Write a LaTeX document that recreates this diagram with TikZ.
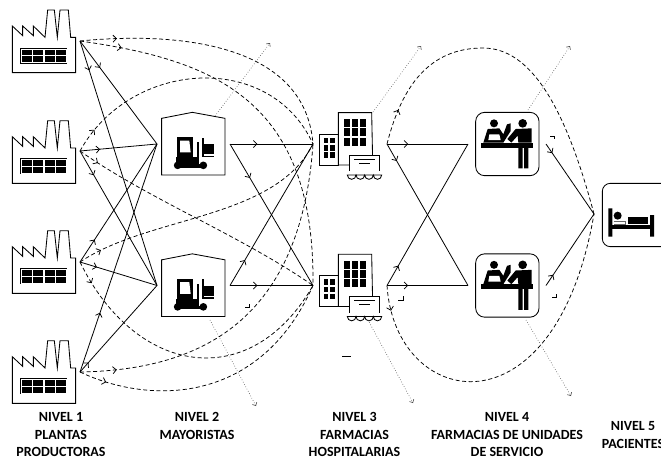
\documentclass[tikz,border=0pt]{standalone}
\usepackage{fontspec}
\setmainfont{Carlito}
\usetikzlibrary{arrows.meta,decorations.markings}
\tikzset{
  barb/.tip={Straight Barb[length=3.4pt,width=7pt,line width=.75pt]},
  flowmark/.style={postaction={decorate,decoration={markings,mark=at position #1 with {\arrow{barb}}}}},
  solidflow/.style={draw=black,line width=.8pt,flowmark=#1},
  dashflow/.style={draw=black,line width=.75pt,dash pattern=on 4pt off 2.6pt,flowmark=#1},
  exitflow/.style={draw=black!70,line width=.6pt,dotted,-{Straight Barb[length=2.6pt,width=5pt,line width=.6pt]}},
  stray/.style={draw=black,line width=.7pt},
  outline/.style={draw=black,line width=.85pt,fill=white,line join=miter},
  levellabel/.style={font=\fontsize{14}{17.2}\selectfont\bfseries,align=center,inner sep=0pt},
  pics/factory/.style={code={
    \begin{scope}[scale=1/3]
    \draw[outline] (37,218)--(37,78)--(68,107)--(68,78)--(100,107)--(100,78)--(135,112)--(143,30)--(163,30)--(172,112)--(180,30)--(205,30)--(212,112)--(227,112)--(227,218)--cycle;
    \fill[black] (60,143) rectangle (202,191);
    \foreach \xa in {64,98,132,166}{
      \draw[white,line width=.9pt] (\xa,147) rectangle (\xa+33,187);
      \draw[white,line width=.9pt] (\xa,167)--(\xa+33,167);
    }
    \end{scope}}},
  pics/store/.style={code={
    \begin{scope}[scale=1/3]
    \draw[outline] (20,40)--(112,22)--(210,40)--(210,210)--(20,210)--cycle;
    \fill[black] (65,97) rectangle (115,160);
    \fill[white] (75,107)--(103,107)--(107,142)--(75,142)--cycle;
    \fill[black] (62,157) rectangle (128,182);
    \fill[black] (68,181) circle (11.5) (145,181) circle (11.5);
    \fill[black] (60,178) rectangle (150,188);
    \fill[black] (125,112) rectangle (133,182);
    \fill[black] (140,98) rectangle (146,157);
    \fill[black] (140,152) rectangle (178,157);
    \fill[black] (148,118) rectangle (178,148);
    \end{scope}}},
  pics/hospital/.style={code={
    \begin{scope}[scale=1/3]
    \draw[outline] (27,180)--(27,87)--(85,87)--(85,180)--cycle;
    \draw[outline] (85,180)--(85,23)--(185,23)--(188,170)--(118,180)--cycle;
    \foreach \xa in {102,126,150}\foreach \ya in {42,70,98}
      \fill[black] (\xa,\ya) rectangle (\xa+18,\ya+24);
    \foreach \xa in {41,60}\foreach \ya in {98,120,141}
      \fill[black] (\xa,\ya) rectangle (\xa+14,\ya+17);
    \draw[outline] (118,198)--(118,150)--(208,150)--(208,198);
    \draw[line width=1pt] (132,162)--(196,162);
    \draw[line width=1pt] (148,175)--(180,175);
    \draw[outline] (112,210) arc[start angle=180,end angle=0,x radius=13,y radius=13] arc[start angle=180,end angle=0,x radius=13,y radius=13] arc[start angle=180,end angle=0,x radius=13,y radius=13] arc[start angle=180,end angle=0,x radius=12.5,y radius=13]--cycle;
    \end{scope}}},
  pics/pharmacy/.style={code={
    \begin{scope}[scale=1/3]
    \draw[outline,rounded corners=9pt] (17,22) rectangle (207,212);
    \fill[black] (72,55) circle (12) (158,55) circle (13);
    \fill[black] (40,113)--(53,72)--(88,70)--(100,88)--(111,58)--(122,55)--(122,78)--(100,113)--cycle;
    \fill[white] (58,88)--(88,88)--(92,105)--(55,105)--cycle;
    \fill[black] (112,102)--(137,72)--(185,70)--(185,113)--(145,113)--(143,92)--(124,113)--cycle;
    \fill[black] (33,113) rectangle (190,128);
    \fill[black] (145,125) rectangle (158,190) (162,125) rectangle (175,190);
    \end{scope}}},
  pics/bed/.style={code={
    \begin{scope}[scale=1/3]
    \draw[outline,rounded corners=8pt] (22,215)--(22,25)--(300,25)--(300,215)--cycle;
    \fill[black] (40,100) rectangle (52,185) (165,120) rectangle (177,185);
    \fill[black] (52,150) rectangle (165,162);
    \fill[black] (68,122) circle (12);
    \fill[black] (100,125) rectangle (160,147);
    \draw[black!60,line width=.6pt] (56,138)--(90,138)--(90,148)--(56,148);
    \end{scope}}}
}
\begin{document}
\begin{tikzpicture}[x=1pt,y=-1pt]
\useasboundingbox (0,0) rectangle (661,459);
\clip (0,0) rectangle (661,459);
% ports
\coordinate (f1) at (80,41);
\coordinate (f2) at (80,151);
\coordinate (f3) at (80,262);
\coordinate (f4) at (80,372);
\coordinate (w1in) at (157,144);
\coordinate (w2in) at (157,285.5);
\coordinate (w1out) at (230,144);
\coordinate (w2out) at (230,285.5);
\coordinate (h1in) at (313,144);
\coordinate (h2in) at (313,285.5);
\coordinate (h1out) at (387,144);
\coordinate (h2out) at (387,285.5);
\coordinate (p1in) at (468,144);
\coordinate (p2in) at (468,285.5);
\coordinate (p1out) at (546,144);
\coordinate (p2out) at (546,285.5);
\coordinate (pat) at (594,214);
% exit ends
\coordinate (x1a) at (215,116); \coordinate (x1b) at (270,43);
\coordinate (x2a) at (210,320); \coordinate (x2b) at (256,406);
\coordinate (x3a) at (373,112); \coordinate (x3b) at (421,46);
\coordinate (x4a) at (368,320); \coordinate (x4b) at (413,403);
\coordinate (x5a) at (528,110); \coordinate (x5b) at (570,46);
\coordinate (x6a) at (526,320); \coordinate (x6b) at (571,396);
% icons
\pic at (0,0) {factory};
\pic at (0,110.7) {factory};
\pic at (0,220.7) {factory};
\pic at (0,330.7) {factory};
\pic at (155,105) {store};
\pic at (155,246.5) {store};
\pic at (310,105) {hospital};
\pic at (310,246.5) {hospital};
\pic at (470,105) {pharmacy};
\pic at (470,246.5) {pharmacy};
\pic at (595,175) {bed};
% solid flows
\draw[solidflow=.26] (f1)--(w1in);
\draw[solidflow=.12] (f1)--(w2in);
\draw[solidflow=.26] (f2)--(w1in);
\draw[solidflow=.18] (f2)--(w2in);
\draw[solidflow=.19] (f3)--(w1in);
\draw[solidflow=.22] (f3)--(w2in);
\draw[solidflow=.26] (f4)--(w1in);
\draw[solidflow=.11] (f4)--(w2in);
\draw[solidflow=.33] (w1out)--(h1in);
\draw[solidflow=.24] (w1out)--(h2in);
\draw[solidflow=.18] (w2out)--(h1in);
\draw[solidflow=.33] (w2out)--(h2in);
\draw[solidflow=.26] (h1out)--(p1in);
\draw[solidflow=.12] (h1out)--(p2in);
\draw[solidflow=.14] (h2out)--(p1in);
\draw[solidflow=.26] (h2out)--(p2in);
\draw[solidflow=.13] (p1out)--(pat);
\draw[solidflow=.15] (p2out)--(pat);
% dashed flows
\draw[dashflow=.13] (f1) .. controls (170,32) and (305,40) .. (h1in);
\draw[dashflow=.11] (f1) .. controls (215,60) and (315,100) .. (h2in);
\draw[dashflow=.09] (f2) .. controls (130,60) and (270,50) .. (h1in);
\draw[dashflow=.08] (f2) .. controls (150,200) and (240,235) .. (h2in);
\draw[dashflow=.09] (f3) .. controls (150,215) and (275,220) .. (h1in);
\draw[dashflow=.08] (f3) .. controls (135,375) and (250,395) .. (h2in);
\draw[dashflow=.1] (f4) .. controls (190,370) and (300,330) .. (h1in);
\draw[dashflow=.1] (f4) .. controls (150,405) and (260,405) .. (h2in);
\draw[dashflow=.1] (h1out) .. controls (402,85) and (430,48) .. (483,48) .. controls (530,48) and (565,105) .. (pat);
\draw[dashflow=.07] (h2out) .. controls (395,410) and (555,440) .. (pat);
% dotted exits
\draw[exitflow] (x1a)--(x1b);
\draw[exitflow] (x2a)--(x2b);
\draw[exitflow] (x3a)--(x3b);
\draw[exitflow] (x4a)--(x4b);
\draw[exitflow] (x5a)--(x5b);
\draw[exitflow] (x6a)--(x6b);
% stray marks
\draw[stray] (550,136)--(554,136)--(554,139);
\draw[stray] (552,297)--(556,297)--(556,294);
\draw[stray] (398,300)--(403,300)--(403,296);
\draw[stray] (245,307)--(249,307)--(249,304);
\draw[stray] (342,356)--(351,356);
% labels
\node[levellabel] (n1) at (61,434.5) {NIVEL 1\\PLANTAS\\PRODUCTORAS};
\node[levellabel] (n2) at (197,426) {NIVEL 2\\MAYORISTAS};
\node[levellabel] (n3) at (354.5,434.5) {NIVEL 3\\FARMACIAS\\HOSPITALARIAS};
\node[levellabel] (n4) at (507,434.5) {NIVEL 4\\FARMACIAS DE UNIDADES\\DE SERVICIO};
\node[levellabel] (n5) at (633,435) {NIVEL 5\\PACIENTES};
\end{tikzpicture}
\end{document}
